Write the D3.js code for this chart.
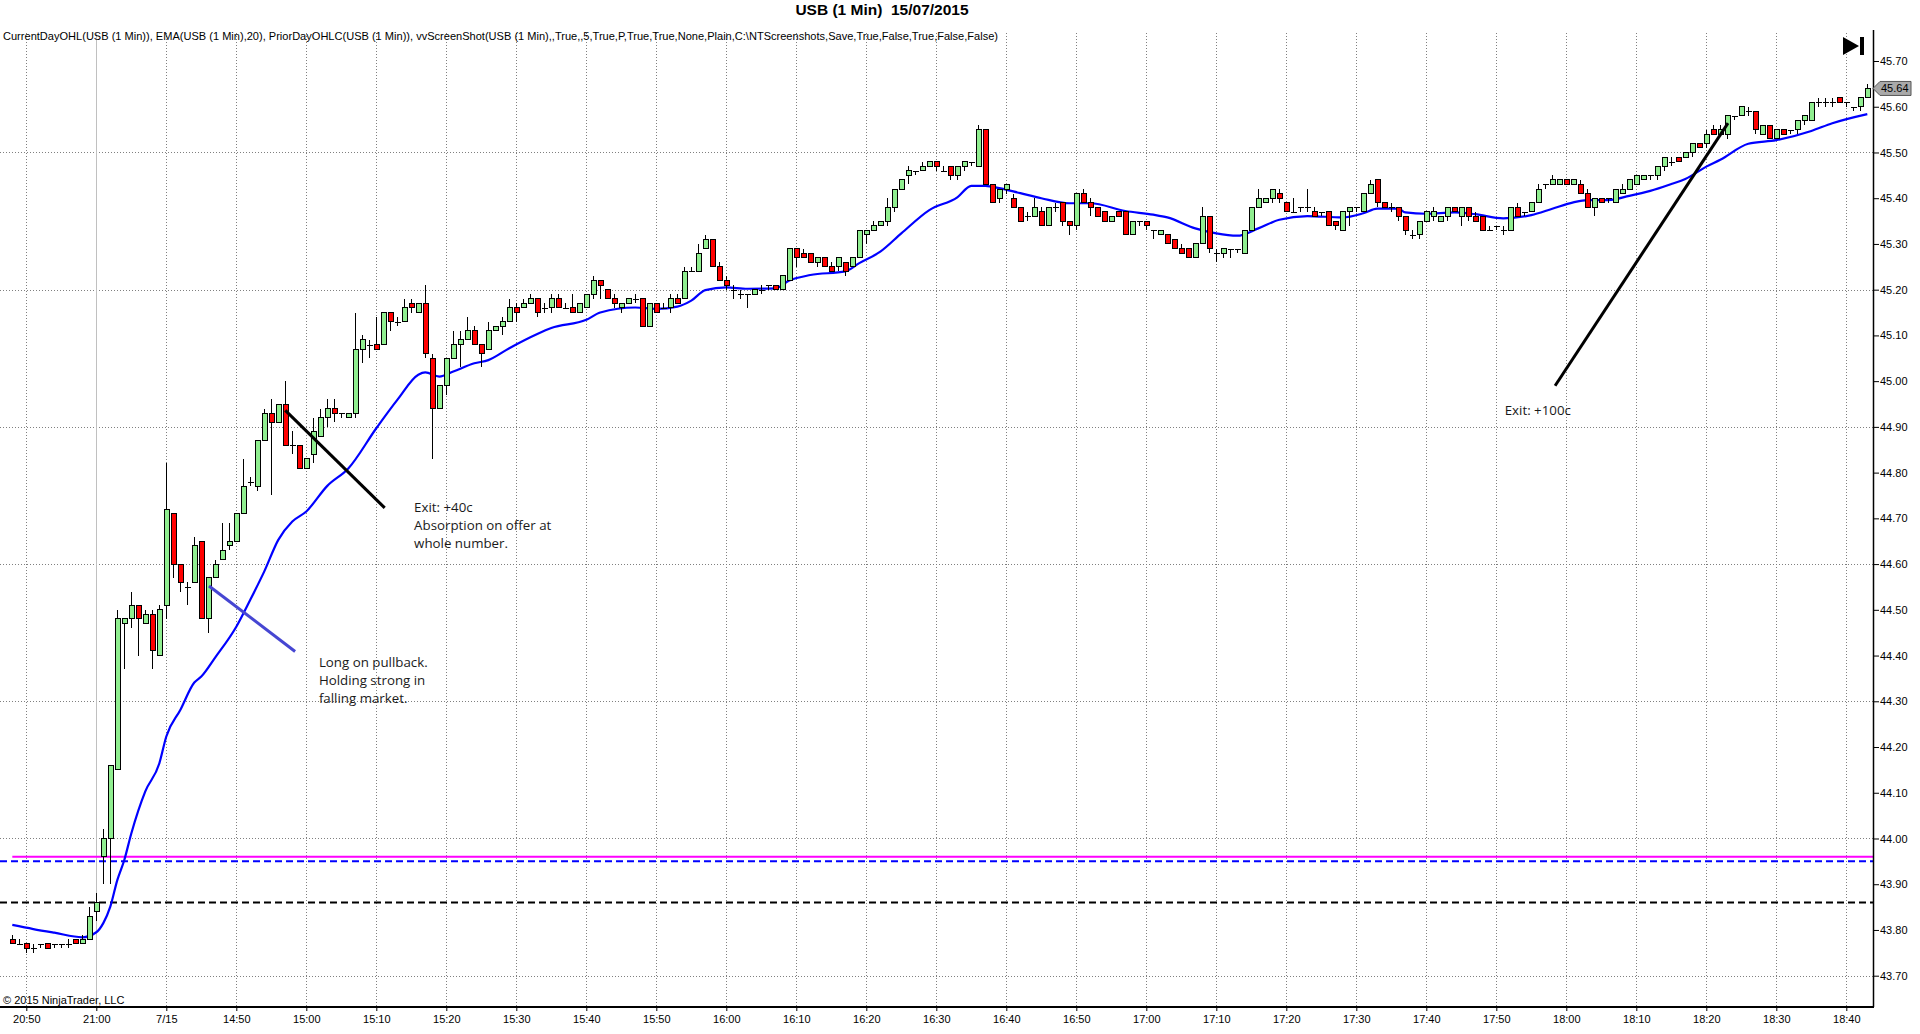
<!DOCTYPE html>
<html>
<head>
<meta charset="utf-8">
<script src="https://cdn.jsdelivr.net/npm/d3@7"></script>
<style>
  body { margin: 0; background: #fff; }
  svg { display: block; font-family: "Liberation Sans", Arial, sans-serif; }
</style>
</head>
<body>
<div id="chart"></div>
<script>
// bar 0 = 20:48 (prior day), bar 13 = 14:31 on 7/15
const opens = [
  43.78,43.77,43.77,43.76,43.77,43.77,43.77,43.77,43.77,43.78,
  43.77,43.78,43.84,43.96,44.00,44.15,44.47,44.48,44.51,44.47,
  44.49,44.40,44.51,44.71,44.60,44.55,44.56,44.65,44.48,44.57,
  44.61,44.64,44.65,44.71,44.78,44.77,44.87,44.93,44.91,44.95,
  44.86,44.86,44.81,44.84,44.88,44.92,44.94,44.93,44.92,44.93,
  45.07,45.08,45.08,45.08,45.15,45.13,45.13,45.17,45.15,45.17,
  45.05,44.94,44.99,45.05,45.08,45.09,45.11,45.08,45.07,45.11,
  45.12,45.13,45.16,45.16,45.17,45.18,45.16,45.16,45.18,45.16,
  45.16,45.15,45.16,45.19,45.22,45.20,45.18,45.16,45.17,45.18,
  45.18,45.12,45.17,45.16,45.16,45.18,45.18,45.24,45.24,45.29,
  45.31,45.25,45.22,45.20,45.19,45.19,45.19,45.20,45.21,45.21,
  45.20,45.22,45.29,45.28,45.28,45.26,45.27,45.25,45.25,45.26,
  45.25,45.27,45.32,45.33,45.34,45.35,45.38,45.42,45.45,45.46,
  45.46,45.47,45.48,45.46,45.47,45.45,45.47,45.48,45.47,45.55,
  45.43,45.40,45.42,45.40,45.38,45.36,45.36,45.37,45.34,45.38,
  45.39,45.35,45.34,45.41,45.39,45.38,45.37,45.35,45.37,45.37,
  45.32,45.35,45.35,45.33,45.32,45.32,45.31,45.29,45.29,45.27,
  45.30,45.36,45.28,45.28,45.29,45.29,45.28,45.33,45.38,45.39,
  45.40,45.41,45.39,45.37,45.38,45.38,45.37,45.37,45.37,45.35,
  45.33,45.37,45.38,45.37,45.41,45.44,45.39,45.38,45.38,45.36,
  45.32,45.32,45.35,45.36,45.35,45.36,45.38,45.36,45.38,45.36,
  45.36,45.33,45.34,45.33,45.33,45.38,45.37,45.37,45.39,45.43,
  45.43,45.43,45.44,45.43,45.43,45.41,45.38,45.40,45.40,45.39,
  45.41,45.42,45.43,45.44,45.45,45.45,45.47,45.48,45.49,45.49,
  45.50,45.52,45.52,45.55,45.54,45.54,45.58,45.58,45.59,45.59,
  45.54,45.56,45.53,45.55,45.55,45.55,45.57,45.57,45.61,45.61,
  45.61,45.62,45.61,45.60,45.60,45.62
];
const highs = [
  43.79,43.78,43.77,43.77,43.77,43.77,43.77,43.77,43.78,43.78,
  43.79,43.85,43.88,44.02,44.16,44.50,44.48,44.54,44.51,44.50,
  44.50,44.51,44.82,44.71,44.60,44.56,44.66,44.65,44.57,44.61,
  44.69,44.69,44.71,44.83,44.79,44.87,44.94,44.96,44.95,45.00,
  44.89,44.86,44.83,44.92,44.94,44.96,44.96,44.93,44.93,45.15,
  45.10,45.09,45.14,45.15,45.15,45.14,45.18,45.18,45.17,45.21,
  45.06,44.99,45.05,45.11,45.11,45.14,45.12,45.08,45.13,45.12,
  45.14,45.18,45.17,45.18,45.19,45.18,45.17,45.19,45.19,45.17,
  45.19,45.17,45.19,45.23,45.22,45.20,45.19,45.17,45.18,45.19,
  45.18,45.17,45.17,45.17,45.19,45.19,45.25,45.25,45.30,45.32,
  45.31,45.26,45.23,45.21,45.20,45.19,45.20,45.21,45.21,45.21,
  45.23,45.29,45.29,45.29,45.28,45.27,45.27,45.26,45.27,45.26,
  45.27,45.33,45.33,45.35,45.35,45.40,45.42,45.44,45.47,45.46,
  45.48,45.48,45.48,45.47,45.47,45.47,45.48,45.48,45.56,45.55,
  45.43,45.42,45.43,45.41,45.38,45.37,45.40,45.38,45.38,45.39,
  45.39,45.35,45.41,45.42,45.40,45.38,45.37,45.36,45.37,45.37,
  45.35,45.35,45.35,45.33,45.33,45.32,45.31,45.30,45.29,45.30,
  45.38,45.36,45.29,45.29,45.29,45.29,45.33,45.38,45.42,45.40,
  45.42,45.42,45.39,45.40,45.38,45.42,45.38,45.37,45.37,45.35,
  45.37,45.38,45.38,45.41,45.44,45.44,45.39,45.39,45.38,45.36,
  45.33,45.35,45.37,45.38,45.36,45.38,45.38,45.38,45.38,45.37,
  45.36,45.34,45.34,45.34,45.38,45.39,45.37,45.39,45.43,45.43,
  45.45,45.44,45.44,45.44,45.44,45.42,45.40,45.40,45.40,45.42,
  45.43,45.44,45.45,45.45,45.45,45.47,45.49,45.49,45.49,45.50,
  45.52,45.52,45.55,45.56,45.56,45.58,45.58,45.60,45.60,45.59,
  45.56,45.56,45.55,45.55,45.55,45.57,45.58,45.61,45.62,45.62,
  45.62,45.62,45.61,45.60,45.62,45.65
];
const lows = [
  43.77,43.77,43.75,43.75,43.76,43.76,43.76,43.76,43.76,43.77,
  43.77,43.78,43.82,43.90,43.90,44.15,44.37,44.46,44.40,44.47,
  44.37,44.40,44.48,44.57,44.54,44.51,44.56,44.48,44.45,44.57,
  44.61,44.63,44.65,44.71,44.77,44.76,44.87,44.75,44.91,44.86,
  44.84,44.81,44.81,44.82,44.88,44.90,44.91,44.92,44.92,44.92,
  45.04,45.05,45.07,45.08,45.11,45.12,45.13,45.15,45.15,45.05,
  44.83,44.94,44.97,45.05,45.03,45.09,45.08,45.03,45.07,45.11,
  45.10,45.13,45.13,45.16,45.17,45.14,45.15,45.15,45.16,45.16,
  45.15,45.15,45.16,45.18,45.18,45.18,45.16,45.15,45.17,45.17,
  45.12,45.12,45.15,45.16,45.15,45.17,45.18,45.24,45.24,45.29,
  45.25,45.22,45.20,45.18,45.18,45.16,45.19,45.19,45.20,45.20,
  45.20,45.22,45.25,45.27,45.26,45.25,45.25,45.24,45.24,45.23,
  45.25,45.27,45.30,45.33,45.34,45.34,45.37,45.42,45.43,45.45,
  45.46,45.47,45.46,45.46,45.44,45.44,45.46,45.47,45.47,45.43,
  45.39,45.39,45.41,45.38,45.35,45.35,45.36,45.34,45.34,45.37,
  45.34,45.32,45.33,45.39,45.36,45.36,45.35,45.35,45.36,45.32,
  45.32,45.34,45.33,45.31,45.32,45.30,45.29,45.28,45.27,45.27,
  45.30,45.28,45.26,45.27,45.27,45.28,45.28,45.33,45.38,45.39,
  45.39,45.39,45.37,45.37,45.37,45.37,45.36,45.36,45.34,45.33,
  45.33,45.34,45.37,45.37,45.41,45.38,45.38,45.37,45.35,45.32,
  45.31,45.31,45.35,45.35,45.35,45.35,45.37,45.34,45.35,45.35,
  45.33,45.33,45.33,45.32,45.33,45.36,45.36,45.37,45.39,45.42,
  45.43,45.43,45.43,45.43,45.41,45.38,45.36,45.39,45.39,45.39,
  45.41,45.42,45.43,45.44,45.44,45.44,45.46,45.47,45.48,45.49,
  45.49,45.51,45.51,45.54,45.54,45.53,45.57,45.58,45.58,45.54,
  45.54,45.53,45.53,45.54,45.54,45.54,45.56,45.57,45.60,45.60,
  45.60,45.61,45.60,45.59,45.59,45.62
];
const closes = [
  43.77,43.77,43.76,43.76,43.77,43.76,43.77,43.77,43.77,43.77,
  43.78,43.83,43.86,44.00,44.16,44.48,44.48,44.51,44.48,44.49,
  44.41,44.50,44.72,44.60,44.56,44.55,44.64,44.48,44.57,44.60,
  44.63,44.65,44.71,44.77,44.78,44.87,44.93,44.91,44.95,44.86,
  44.86,44.81,44.83,44.89,44.92,44.94,44.93,44.93,44.93,45.07,
  45.09,45.08,45.07,45.15,45.13,45.13,45.16,45.16,45.17,45.06,
  44.94,44.99,45.05,45.08,45.09,45.11,45.08,45.06,45.11,45.12,
  45.13,45.16,45.15,45.17,45.18,45.15,45.16,45.18,45.16,45.16,
  45.15,45.17,45.19,45.22,45.21,45.18,45.17,45.17,45.18,45.18,
  45.12,45.17,45.15,45.16,45.18,45.17,45.24,45.24,45.28,45.31,
  45.25,45.22,45.21,45.20,45.19,45.19,45.20,45.20,45.21,45.20,
  45.23,45.29,45.27,45.27,45.26,45.27,45.25,45.24,45.27,45.24,
  45.27,45.33,45.33,45.34,45.35,45.38,45.42,45.44,45.46,45.46,
  45.47,45.48,45.47,45.46,45.45,45.47,45.48,45.48,45.55,45.43,
  45.39,45.42,45.43,45.38,45.35,45.36,45.38,45.34,45.38,45.38,
  45.35,45.34,45.41,45.39,45.38,45.36,45.35,45.36,45.36,45.32,
  45.35,45.35,45.34,45.33,45.33,45.30,45.29,45.28,45.27,45.30,
  45.36,45.29,45.28,45.29,45.29,45.29,45.33,45.38,45.40,45.40,
  45.42,45.40,45.37,45.37,45.38,45.38,45.36,45.37,45.34,45.34,
  45.37,45.38,45.38,45.41,45.43,45.39,45.38,45.38,45.36,45.33,
  45.32,45.35,45.37,45.37,45.36,45.38,45.37,45.38,45.36,45.35,
  45.33,45.33,45.34,45.33,45.38,45.36,45.37,45.39,45.42,45.43,
  45.44,45.44,45.43,45.44,45.41,45.38,45.40,45.39,45.40,45.42,
  45.42,45.44,45.45,45.45,45.45,45.47,45.49,45.48,45.48,45.50,
  45.52,45.51,45.54,45.54,45.55,45.58,45.58,45.60,45.59,45.55,
  45.56,45.53,45.55,45.54,45.55,45.57,45.58,45.61,45.61,45.61,
  45.61,45.61,45.61,45.60,45.62,45.64
];

// EMA(20) at these bars
const emaBars = [0,3,6,10,12,13,14,15,16,17,19,21,22,24,26,27,29,32,34,36,38,40,42,45,48,
  52,55,58,59,61,63,66,68,71,75,77,82,84,89,92,95,97,99,102,105,109,111,114,119,121,124,
  127,131,135,137,139,141,144,147,151,154,159,163,165,169,172,175,178,181,185,190,193,195,
  198,199,202,206,209,213,217,220,223,225,228,231,234,237,239,242,244,248,252,257,260,265];
const emaVals = [43.811,43.802,43.794,43.784,43.795,43.815,43.851,43.909,43.953,44.011,44.103,44.164,
  44.223,44.281,44.341,44.354,44.396,44.463,44.522,44.584,44.653,44.693,44.715,44.771,44.809,
  44.897,44.959,45.014,45.019,45.010,45.021,45.039,45.046,45.072,45.103,45.116,45.134,45.150,
  45.161,45.158,45.163,45.176,45.199,45.205,45.202,45.203,45.220,45.232,45.240,45.258,45.283,
  45.323,45.374,45.402,45.427,45.427,45.422,45.411,45.400,45.389,45.389,45.372,45.364,45.358,
  45.334,45.323,45.318,45.334,45.353,45.361,45.358,45.367,45.377,45.377,45.369,45.366,45.369,
  45.365,45.356,45.363,45.377,45.391,45.396,45.396,45.405,45.416,45.431,45.442,45.469,45.484,
  45.519,45.527,45.547,45.564,45.584];

// prior day levels
const priorLevels = [
  { value: 43.96, color: "#ff00ff", dash: null, fromBar: 0 },
  { value: 43.95, color: "#0000ff", dash: "7,4", fromBar: -1.8 },
  { value: 43.86, color: "#000000", dash: "7,4", fromBar: -1.8 }
];

const xTickBars = d3.range(2, 263, 10);
const xTickLabels = ["20:50","21:00","7/15","14:50","15:00","15:10","15:20","15:30","15:40","15:50",
  "16:00","16:10","16:20","16:30","16:40","16:50","17:00","17:10","17:20","17:30","17:40","17:50",
  "18:00","18:10","18:20","18:30","18:40"];
const yTicks = d3.range(0, 21).map(k => +(43.70 + k * 0.1).toFixed(2));
const yGrid = [43.70, 44.00, 44.30, 44.60, 44.90, 45.20, 45.50];

const W = 1920, H = 1034;
const axisX = 1873, plotTop = 30, plotBottom = 1007;

const svg = d3.select("#chart").append("svg")
  .attr("width", W).attr("height", H);

const x = d3.scaleLinear().domain([0, 265]).range([12.3, 1867.3]);
const y = d3.scaleLinear().domain([43.70, 45.70]).range([975.7, 61]);

// grid
svg.append("g").selectAll("line").data(yGrid).join("line")
  .attr("x1", 0).attr("x2", axisX)
  .attr("y1", d => Math.round(y(d)) + 0.5).attr("y2", d => Math.round(y(d)) + 0.5)
  .attr("stroke", "#808080").attr("stroke-dasharray", "1,2");

svg.append("g").selectAll("line").data(xTickBars).join("line")
  .attr("x1", d => Math.round(x(d)) + 0.5).attr("x2", d => Math.round(x(d)) + 0.5)
  .attr("y1", plotTop + 3).attr("y2", plotBottom)
  .attr("stroke", d => d === 12 ? "#c0c0c0" : "#808080")
  .attr("stroke-dasharray", d => d === 12 ? null : "1,2");

// prior day lines
svg.append("g").selectAll("line").data(priorLevels).join("line")
  .attr("x1", d => d.fromBar < 0 ? 0 : x(d.fromBar)).attr("x2", axisX)
  .attr("y1", d => y(d.value)).attr("y2", d => y(d.value))
  .attr("stroke", d => d.color).attr("stroke-width", 2)
  .attr("stroke-dasharray", d => d.dash);

// EMA
const emaPts = emaBars.map((b, k) => [b, emaVals[k]]);
svg.append("path")
  .attr("fill", "none").attr("stroke", "#0000ff").attr("stroke-width", 2.2)
  .attr("d", d3.line().x(d => x(d[0])).y(d => y(d[1])).curve(d3.curveMonotoneX)(emaPts));

// candles
const bars = opens.map((o, i) => ({ i, o, h: highs[i], l: lows[i], c: closes[i] }));
const cg = svg.append("g").attr("shape-rendering", "crispEdges");
cg.selectAll(".wick").data(bars).join("line")
  .attr("x1", d => Math.round(x(d.i)) + 0.5).attr("x2", d => Math.round(x(d.i)) + 0.5)
  .attr("y1", d => y(d.h)).attr("y2", d => y(d.l))
  .attr("stroke", "#000");
cg.selectAll(".body").data(bars.filter(d => d.o !== d.c)).join("rect")
  .attr("x", d => Math.round(x(d.i)) - 2 + 0.5)
  .attr("y", d => y(Math.max(d.o, d.c)))
  .attr("width", 5)
  .attr("height", d => Math.abs(y(d.o) - y(d.c)))
  .attr("fill", d => d.c > d.o ? "#90ee90" : "#ff0000")
  .attr("stroke", "#000");
cg.selectAll(".doji").data(bars.filter(d => d.o === d.c)).join("line")
  .attr("x1", d => Math.round(x(d.i)) - 2.5).attr("x2", d => Math.round(x(d.i)) + 3.5)
  .attr("y1", d => Math.round(y(d.o)) + 0.5).attr("y2", d => Math.round(y(d.o)) + 0.5)
  .attr("stroke", "#000");

// annotations, placed in bar / price space
const noteLines = [
  { from: [39.0, 44.936], to: [53.2, 44.723], color: "#000", w: 3 },
  { from: [28.1, 44.552], to: [40.4, 44.409], color: "#4646d2", w: 3 },
  { from: [220.4, 44.99], to: [245.1, 45.564], color: "#000", w: 3 }
];
svg.append("g").selectAll("line").data(noteLines).join("line")
  .attr("x1", d => x(d.from[0])).attr("y1", d => y(d.from[1]))
  .attr("x2", d => x(d.to[0])).attr("y2", d => y(d.to[1]))
  .attr("stroke", d => d.color).attr("stroke-width", d => d.w);

const noteTexts = [
  { bar: 57.4, price: 44.723, lines: ["Exit: +40c", "Absorption on offer at", "whole number."] },
  { bar: 43.8, price: 44.384, lines: ["Long on pullback.", "Holding strong in", "falling market."] },
  { bar: 213.2, price: 44.935, lines: ["Exit: +100c"] }
];
noteTexts.forEach(n => {
  const t = svg.append("text")
    .attr("x", x(n.bar)).attr("y", y(n.price) + 4.5)
    .attr("font-family", "'Open Sans', 'Noto Sans', sans-serif")
    .attr("font-size", 13.3).attr("fill", "#1a1a1a");
  n.lines.forEach((s, k) => t.append("tspan").attr("x", x(n.bar)).attr("dy", k ? 18 : 0).text(s));
});

// right price axis
const ya = svg.append("g").attr("transform", `translate(${axisX},0)`)
  .call(d3.axisRight(y).tickValues(yTicks).tickFormat(d3.format(".2f")).tickSize(6).tickSizeOuter(0));
ya.select(".domain").remove();
ya.selectAll("text").attr("x", 7).attr("font-size", 11)
  .attr("font-family", "'Liberation Sans', Arial, sans-serif").attr("fill", "#000");
ya.selectAll("line").attr("stroke", "#000");
svg.append("line").attr("x1", axisX + 0.5).attr("x2", axisX + 0.5)
  .attr("y1", plotTop).attr("y2", plotBottom).attr("stroke", "#000").attr("stroke-width", 1.5);

// bottom time axis
const xa = svg.append("g").attr("transform", `translate(0,${plotBottom})`)
  .call(d3.axisBottom(x).tickValues(xTickBars).tickFormat((d, k) => xTickLabels[k]).tickSize(4).tickSizeOuter(0));
xa.select(".domain").remove();
xa.selectAll("text").attr("y", 8).attr("font-size", 11)
  .attr("font-family", "'Liberation Sans', Arial, sans-serif").attr("fill", "#000");
xa.selectAll("line").attr("stroke", "#000");
svg.append("line").attr("x1", 0).attr("x2", axisX + 1)
  .attr("y1", plotBottom).attr("y2", plotBottom).attr("stroke", "#000").attr("stroke-width", 2);

// last price marker
const last = closes[closes.length - 1];
const ly = y(last);
svg.append("path")
  .attr("d", `M${axisX},${ly} L${axisX + 7},${ly - 7} L${axisX + 38},${ly - 7} L${axisX + 38},${ly + 7} L${axisX + 7},${ly + 7} Z`)
  .attr("fill", "#a9a9a9").attr("stroke", "#555");
svg.append("text").attr("x", axisX + 8).attr("y", ly + 4)
  .attr("font-size", 11).attr("fill", "#000").text(last.toFixed(2));

// "go to end" icon
svg.append("path")
  .attr("d", "M1843,37 L1843,55 L1859,46 Z M1860,37 L1864,37 L1864,55 L1860,55 Z")
  .attr("fill", "#000");

// title and indicator line
svg.append("text").attr("x", 882).attr("y", 15).attr("text-anchor", "middle")
  .attr("font-size", 15.5).attr("font-weight", "bold").text("USB (1 Min)\u00a0 15/07/2015");
svg.append("text").attr("x", 3).attr("y", 40).attr("font-size", 11)
  .attr("textLength", 995).attr("lengthAdjust", "spacingAndGlyphs")
  .text("CurrentDayOHL(USB (1 Min)), EMA(USB (1 Min),20), PriorDayOHLC(USB (1 Min)), vvScreenShot(USB (1 Min),,True,,5,True,P,True,True,None,Plain,C:\\NTScreenshots,Save,True,False,True,False,False)");
svg.append("text").attr("x", 3).attr("y", 1004).attr("font-size", 11)
  .text("© 2015 NinjaTrader, LLC");
</script>
</body>
</html>
